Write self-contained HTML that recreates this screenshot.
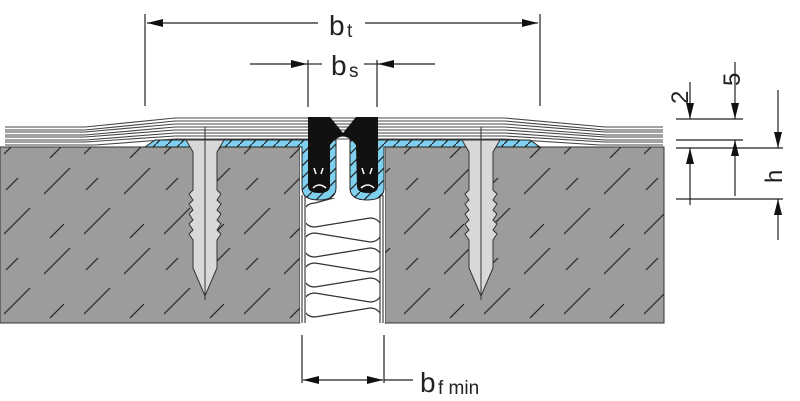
<!DOCTYPE html>
<html><head><meta charset="utf-8"><style>
html,body{margin:0;padding:0;background:#fff;}
svg{display:block;}
text{font-family:"Liberation Sans",sans-serif;fill:#222;}
</style></head><body>
<svg width="800" height="401" viewBox="0 0 800 401" xmlns="http://www.w3.org/2000/svg">
<defs>
<pattern id="hatch" width="80" height="80" patternUnits="userSpaceOnUse">
<rect width="80" height="80" fill="#9c9c9c"/>
<path d="M4 74 L30 48 M44 34 L70 8 M50 78 L64 64 M6 30 L18 18" stroke="#222" stroke-width="1.2"/>
</pattern>
<pattern id="bh" width="12" height="12" patternUnits="userSpaceOnUse">
<rect width="12" height="12" fill="#7fd0ef"/>
<path d="M0 12 L12 0" stroke="#222" stroke-width="1.2"/>
</pattern>
<clipPath id="gapclip"><rect x="306" y="198" width="74" height="124"/></clipPath>
<marker id="ar" viewBox="0 0 16 8" refX="16" refY="4" markerWidth="16" markerHeight="8" markerUnits="userSpaceOnUse" orient="auto"><path d="M0 0 L16 4 L0 8 Z" fill="#111"/></marker>
</defs>
<rect x="0" y="147" width="300" height="176" fill="url(#hatch)" stroke="#333" stroke-width="1"/>
<rect x="385" y="147" width="279" height="176" fill="url(#hatch)" stroke="#333" stroke-width="1"/>
<rect x="300" y="147" width="85" height="176" fill="#fff"/>
<path d="M302 195 L302 323 M305 195 L305 323 M380 195 L380 323 M383 195 L383 323" stroke="#444" stroke-width="1.2"/>
<g clip-path="url(#gapclip)" fill="none" stroke="#333" stroke-width="1.3">
<path d="M370 188 L315 203 C299 203 299 227 315 227 L370 218 C386 218 386 242 370 242 L315 233 C299 233 299 257 315 257 L370 248 C386 248 386 272 370 272 L315 263 C299 263 299 287 315 287 L370 278 C386 278 386 302 370 302 L315 293 C299 293 299 317 315 317 L370 308 C386 308 386 332 370 332"/>
</g>
<g fill="none" stroke="#444" stroke-width="1.1">
<path d="M5 127 L85 127 L175 118 L505 118 L605 127 L663 127"/>
<path d="M5 130 L85 130 L175 121 L505 121 L605 130 L663 130"/>
<path d="M5 132 L85 132 L175 124 L505 124 L605 132 L663 132"/>
<path d="M5 135 L85 135 L175 127 L505 127 L605 135 L663 135"/>
<path d="M5 137 L85 137 L175 130 L505 130 L605 137 L663 137"/>
<path d="M5 140 L85 140 L175 133 L505 133 L605 140 L663 140"/>
<path d="M5 142 L85 142 L175 136 L505 136 L605 142 L663 142"/>
<path d="M5 145 L95 145 L175 139 L505 139 L600 145 L663 145"/>
</g>
<path d="M145 147 L155 140 L330 140 L336 140 L336 188 Q336 200 319 200 Q302 200 302 188 L302 147 Z" fill="url(#bh)" stroke="#222" stroke-width="1"/>
<path d="M540 147 L530 140 L350 140 L350 188 Q350 200 367 200 Q384 200 384 188 L384 147 Z" fill="url(#bh)" stroke="#222" stroke-width="1"/>
<path d="M308 117 L330 117 L343 133 L356 117 L378 117 L378 186 Q378 193 368 193 Q357 193 357 186 L356 145 Q343 128 330 145 L330 186 Q330 193 319 193 Q308 193 308 186 Z" fill="#111"/>
<path d="M313 188 Q319 182 326 188 M361 188 Q368 182 374 188" stroke="#fff" stroke-width="1.5" fill="none"/>
<path d="M314 168 L316 174 M323 168 L321 174 M362 168 L364 174 M372 168 L370 174" stroke="#fff" stroke-width="1.5"/>
<g fill="#d8d8d8" stroke="#333" stroke-width="1">
<path d="M186 140 L224 140 L217 152 L217 190 L221 194 L217 200 L221 204 L217 210 L221 214 L217 220 L221 224 L217 230 L221 234 L217 240 L217 268 L205 296 L193 268 L193 240 L189 234 L193 230 L189 224 L193 220 L189 214 L193 210 L189 204 L193 200 L189 194 L193 190 L193 152 Z"/>
<path d="M462 140 L500 140 L493 152 L493 190 L497 194 L493 200 L497 204 L493 210 L497 214 L493 220 L497 224 L493 230 L497 234 L493 240 L493 268 L481 296 L469 268 L469 240 L465 234 L469 230 L465 224 L469 220 L465 214 L469 210 L465 204 L469 200 L465 194 L469 190 L469 152 Z"/>
</g>
<path d="M205 127 L205 300 M481 127 L481 300" stroke="#333" stroke-width="1"/>
<g stroke="#222" stroke-width="1.2" fill="none">
<line x1="145" y1="14" x2="145" y2="106"/>
<line x1="540" y1="14" x2="540" y2="106"/>
<line x1="318" y1="23" x2="147" y2="23" marker-end="url(#ar)"/>
<line x1="365" y1="23" x2="538" y2="23" marker-end="url(#ar)"/>
<line x1="308" y1="60" x2="308" y2="107"/>
<line x1="377" y1="60" x2="377" y2="107"/>
<line x1="250" y1="64" x2="307" y2="64" marker-end="url(#ar)"/>
<line x1="307" y1="64" x2="322" y2="64"/>
<line x1="435" y1="64" x2="378" y2="64" marker-end="url(#ar)"/>
<line x1="364" y1="64" x2="378" y2="64"/>
<line x1="302" y1="335" x2="302" y2="383"/>
<line x1="384" y1="335" x2="384" y2="383"/>
<line x1="343" y1="380" x2="303" y2="380" marker-end="url(#ar)"/>
<line x1="343" y1="380" x2="383" y2="380" marker-end="url(#ar)"/>
<line x1="384" y1="380" x2="413" y2="380"/>
<line x1="676" y1="119" x2="743" y2="119"/>
<line x1="676" y1="140" x2="743" y2="140"/>
<line x1="676" y1="148" x2="783" y2="148"/>
<line x1="676" y1="199" x2="783" y2="199"/>
<line x1="690" y1="82" x2="690" y2="119" marker-end="url(#ar)"/>
<line x1="690" y1="205" x2="690" y2="148" marker-end="url(#ar)"/>
<line x1="735" y1="62" x2="735" y2="119" marker-end="url(#ar)"/>
<line x1="735" y1="196" x2="735" y2="140" marker-end="url(#ar)"/>
<line x1="778" y1="90" x2="778" y2="148" marker-end="url(#ar)"/>
<line x1="778" y1="240" x2="778" y2="199" marker-end="url(#ar)"/>
</g>
<text x="329" y="35" font-size="28">b</text><text x="347" y="37" font-size="19">t</text>
<text x="331" y="75" font-size="28">b</text><text x="349" y="77" font-size="19">s</text>
<text x="420" y="392" font-size="28">b</text><text x="438" y="394" font-size="19">f min</text>
<text transform="translate(688,104) rotate(-90)" font-size="24">2</text>
<text transform="translate(740,86) rotate(-90)" font-size="24">5</text>
<text transform="translate(782,183) rotate(-90)" font-size="24">h</text>
</svg>
</body></html>
